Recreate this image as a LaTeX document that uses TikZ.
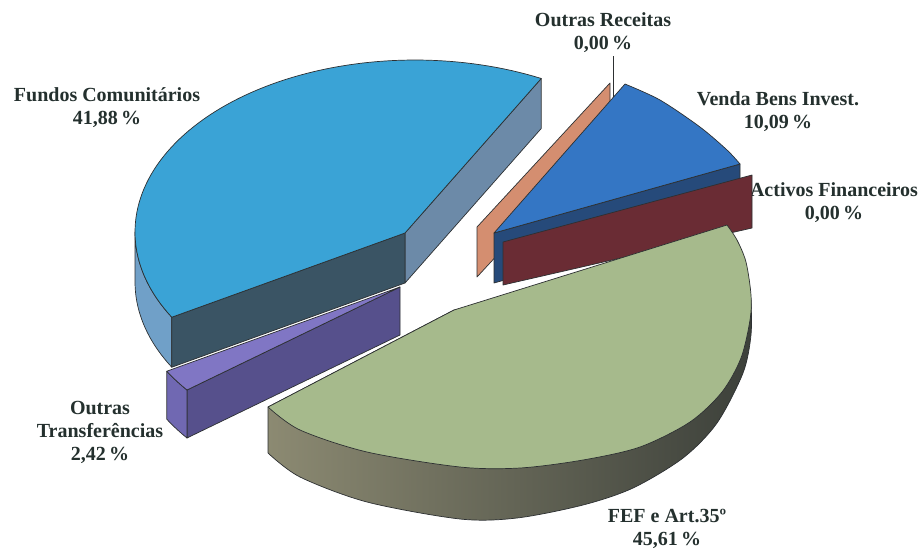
\documentclass[tikz,border=0pt]{standalone}
\usepackage{fontspec}
\setmainfont{Liberation Serif}
\definecolor{fcTop}{RGB}{58,163,214}
\definecolor{fcSide}{RGB}{112,160,200}
\definecolor{fcCutR}{RGB}{108,138,168}
\definecolor{fcCutF}{RGB}{58,84,100}
\definecolor{otTop}{RGB}{128,118,196}
\definecolor{otSide}{RGB}{112,104,178}
\definecolor{otCut}{RGB}{86,80,140}
\definecolor{orc}{RGB}{212,142,112}
\definecolor{vbTop}{RGB}{52,118,196}
\definecolor{vbCut}{RGB}{38,74,122}
\definecolor{afc}{RGB}{106,44,52}
\definecolor{fefTop}{RGB}{166,186,140}
\definecolor{fefSideL}{RGB}{140,138,114}
\definecolor{fefSideM}{RGB}{94,98,88}
\definecolor{fefSideR}{RGB}{60,64,58}
\definecolor{edgec}{RGB}{45,48,50}
\definecolor{lblc}{RGB}{36,48,46}
\begin{document}
\begin{tikzpicture}[x=1pt,y=-1pt,
  face/.style={draw=edgec, line width=0.7pt, line join=round},
  lbl/.style={font=\bfseries\fontsize{20}{23}\selectfont, text=lblc, align=center, inner sep=0pt},
  leader/.style={draw=edgec, line width=0.8pt}]
\fill[white] (0,0) rectangle (922,550);
\useasboundingbox (0,0) rectangle (922,550);

% ---- Fundos Comunitarios (blue) ----
\coordinate (B0) at (405,233);
\coordinate (BR) at ({415+280*cos(63.2)},{232-172*sin(63.2)});
\coordinate (BL) at ({415+280*cos(209.7)},{232-172*sin(209.7)});
\path[face, fill=fcSide] plot[domain=180:209.7,samples=20] ({415+280*cos(\x)},{232-172*sin(\x)})
  -- plot[domain=0:29.7,samples=20] ({415+280*cos(209.7-\x)},{282-172*sin(209.7-\x)}) -- cycle;
\path[face, fill=fcCutR] (B0) -- (BR) -- ++(0,50) -- (405,283) -- cycle;
\path[face, fill=fcCutF] (B0) -- (BL) -- ++(0,50) -- (405,283) -- cycle;
\path[face, fill=fcTop] (B0) -- (BR)
  -- plot[domain=63.2:209.7,samples=90] ({415+280*cos(\x)},{232-172*sin(\x)}) -- cycle;

% ---- Outras Transferencias (purple) ----
\coordinate (P0) at (400,287);
\coordinate (PL2) at ({410+280*cos(217.2)},{286-172*sin(217.2)});
\path[face, fill=otCut] (P0) -- (PL2) -- ++(0,48) -- (400,335) -- cycle;
\path[face, fill=otSide] plot[domain=209.7:217.2,samples=8] ({410+280*cos(\x)},{286-172*sin(\x)})
  -- plot[domain=0:7.5,samples=8] ({410+280*cos(217.2-\x)},{334-172*sin(217.2-\x)}) -- cycle;
\path[face, fill=otTop] (P0)
  -- plot[domain=209.7:217.2,samples=8] ({410+280*cos(\x)},{286-172*sin(\x)}) -- cycle;

% ---- Outras Receitas (salmon, 0%) ----
\coordinate (S0) at (477,227);
\coordinate (S1) at (610,83);
\path[face, fill=orc] (S0) -- (S1) -- ++(0,50) -- (477,277) -- cycle;

% ---- Venda Bens Invest. ----
\coordinate (V0) at (494,233);
\coordinate (V2) at (740,164);
\path[face, fill=vbCut] (V0) -- (V2) -- ++(0,50) -- (494,283) -- cycle;
\path[face, fill=vbTop] (V0) -- plot[smooth] coordinates {(625,84) (660,100) (700,127) (727,150) (740,164)} -- cycle;

% ---- Activos Financeiros (brown, 0%) ----
\node[lbl] (afl) at (834,203) {Activos Financeiros\\0,00\,\%};
\coordinate (A0) at (503,242);
\coordinate (A1) at (752,175);
\path[face, fill=afc] (A0) -- (A1) -- (752,228) -- (503,285) -- cycle;

% ---- FEF e Art.35 (green) ----
\coordinate (G0) at (454,310);
\coordinate (GL) at (268,407);
\coordinate (GR) at (727,225);
\path[face, left color=fefSideL, middle color=fefSideM, right color=fefSideR]
  (GL) -- (268,453)
  -- plot[smooth] coordinates {(268,453) (300,477) (367,502) (460,519) (517,518) (583,505) (633,488) (683,458) (717,423) (743,373) (751,335) (751,300)}
  -- (G0) -- cycle;
\path[face, fill=fefTop] (G0) -- (GR)
  -- plot[smooth] coordinates {(727,225) (737,240) (746,262) (751,295) (750,320) (741,358) (722,392) (690,422) (640,447) (583,460) (520,468) (460,467) (367,452) (300,430) (268,407)}
  -- cycle;

% ---- labels ----
\node[lbl] (orl) at (603,33) {Outras Receitas\\0,00\,\%};
\coordinate (orTop) at (613,56);
\coordinate (orTip) at (613,97);
\draw[leader] (orTop) -- (orTip);
\node[lbl] (vbl) at (778,112) {Venda Bens Invest.\\10,09\,\%};
\node[lbl] (fcl) at (107,108) {Fundos Comunitários\\41,88\,\%};
\node[lbl] (otl) at (100,432) {Outras\\Transferências\\2,42\,\%};
\node[lbl] (fefl) at (667,529) {FEF e Art.35º\\45,61\,\%};
\end{tikzpicture}
\end{document}
